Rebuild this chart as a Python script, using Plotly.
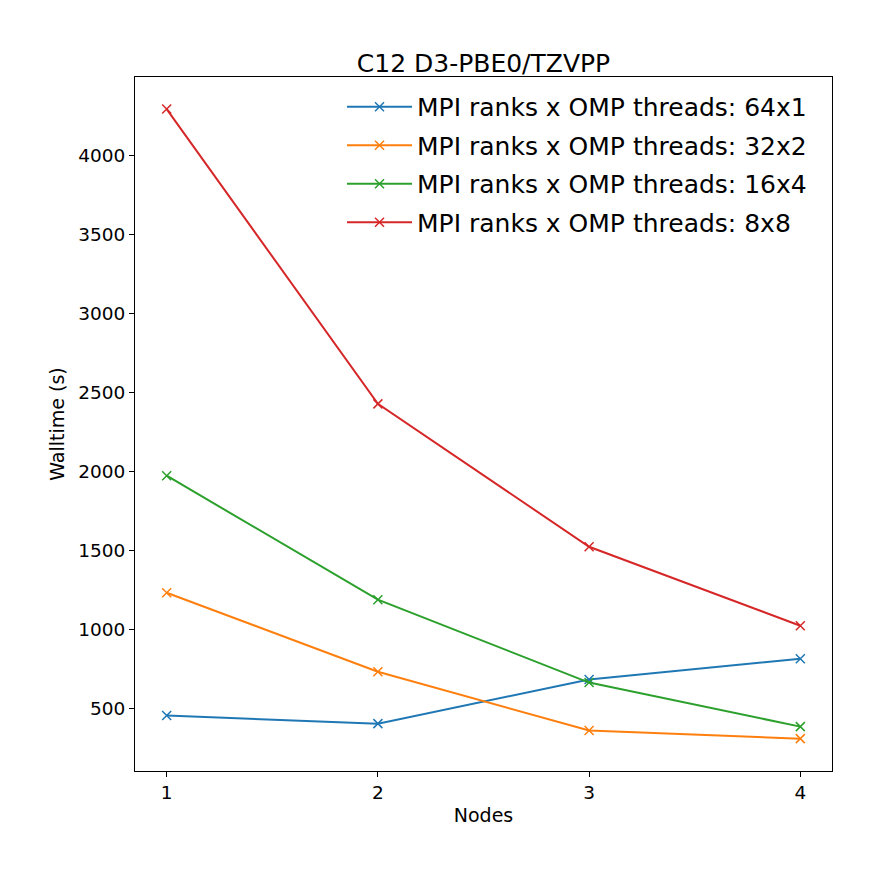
import plotly.graph_objects as go

nodes = [1, 2, 3, 4]
labels = [
    "MPI ranks x OMP threads: 64x1",
    "MPI ranks x OMP threads: 32x2",
    "MPI ranks x OMP threads: 16x4",
    "MPI ranks x OMP threads: 8x8",
]
walltime_64x1 = [456, 405, 684, 816]
walltime_32x2 = [1234, 734, 361, 310]
walltime_16x4 = [1975, 1190, 665, 386]
walltime_8x8 = [4297, 2430, 1525, 1025]
colors = ["#1f77b4", "#ff7f0e", "#2ca02c", "#d62728"]

series = [walltime_64x1, walltime_32x2, walltime_16x4, walltime_8x8]

fig = go.Figure()
for i, (lab, vals) in enumerate(zip(labels, series)):
    fig.add_trace(go.Scatter(
        x=nodes, y=vals, name=lab, mode="lines+markers",
        legendgroup=str(i),
        line=dict(color=colors[i], width=2),
        marker=dict(symbol="x-thin", size=9,
                    line=dict(color=colors[i], width=1.5)),
    ))

axis_style = dict(
    showline=True, linecolor="black", linewidth=1, mirror=True,
    ticks="outside", ticklen=5, tickcolor="black", tickwidth=1,
    showgrid=False, zeroline=False, automargin=False,
    tickfont=dict(size=18.5, color="black"),
)

# page has ~7px body offset, so margins are shifted to compensate
fig.update_layout(
    width=881, height=873,
    paper_bgcolor="white", plot_bgcolor="white",
    font=dict(family="DejaVu Sans", color="black"),
    margin=dict(l=127, r=57, t=69, b=110),
    title=dict(text="C12 D3-PBE0/TZVPP", xref="paper", x=0.5, xanchor="center",
               y=1 - 55 / 873, yanchor="middle",
               font=dict(size=25, color="black")),
    xaxis=dict(axis_style, range=[0.85, 4.15], tickvals=nodes,
               title=dict(text="Nodes", font=dict(size=19), standoff=6)),
    yaxis=dict(axis_style, range=[105, 4500],
               tickvals=[500, 1000, 1500, 2000, 2500, 3000, 3500, 4000],
               title=dict(text="Walltime (s)", font=dict(size=19), standoff=8)),
    legend=dict(x=0.297, y=0.99, xanchor="left", yanchor="top",
                bgcolor="rgba(0,0,0,0)", font=dict(size=25),
                traceorder="grouped", tracegroupgap=3,
                itemwidth=65),
)

fig.write_html("out.html")
